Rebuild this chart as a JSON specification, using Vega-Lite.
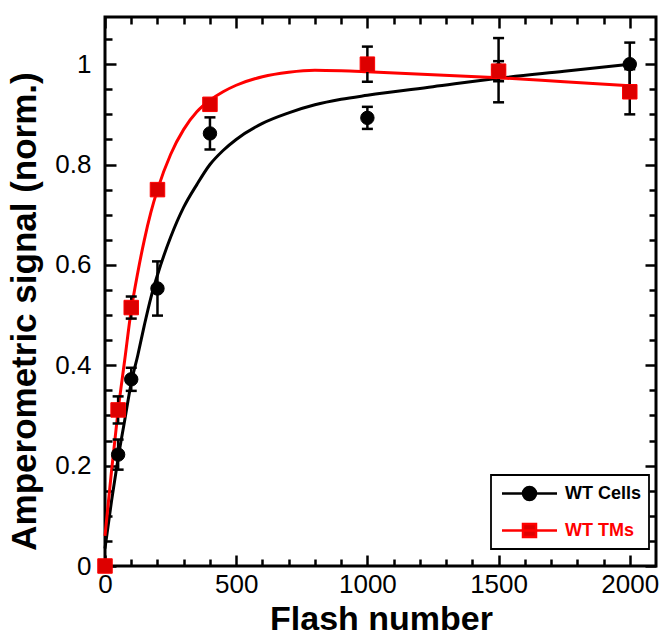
{
  "$schema": "https://vega.github.io/schema/vega-lite/v6.json",
  "width": 551,
  "height": 549,
  "autosize": {"type": "none"},
  "padding": {"left": 105, "top": 17, "right": 7, "bottom": 70},
  "config": {
    "view": {"stroke": "black", "strokeWidth": 3},
    "axis": {"grid": false, "domain": false, "labelFont": "Liberation Sans", "titleFont": "Liberation Sans", "tickColor": "black", "tickWidth": 2.5, "labelColor": "black", "titleColor": "black"},
    "legend": {"strokeWidth": 1.8}
  },
  "datasets": {
    "curves": [
      {"series": "WT Cells", "x": 0, "y": 0.035},
      {"series": "WT Cells", "x": 25, "y": 0.13},
      {"series": "WT Cells", "x": 50, "y": 0.215},
      {"series": "WT Cells", "x": 75, "y": 0.29},
      {"series": "WT Cells", "x": 100, "y": 0.365},
      {"series": "WT Cells", "x": 125, "y": 0.42},
      {"series": "WT Cells", "x": 150, "y": 0.48},
      {"series": "WT Cells", "x": 175, "y": 0.535},
      {"series": "WT Cells", "x": 200, "y": 0.58},
      {"series": "WT Cells", "x": 250, "y": 0.655},
      {"series": "WT Cells", "x": 300, "y": 0.715},
      {"series": "WT Cells", "x": 350, "y": 0.76},
      {"series": "WT Cells", "x": 400, "y": 0.8},
      {"series": "WT Cells", "x": 450, "y": 0.828},
      {"series": "WT Cells", "x": 500, "y": 0.85},
      {"series": "WT Cells", "x": 600, "y": 0.882},
      {"series": "WT Cells", "x": 700, "y": 0.903},
      {"series": "WT Cells", "x": 800, "y": 0.919},
      {"series": "WT Cells", "x": 900, "y": 0.93},
      {"series": "WT Cells", "x": 1000, "y": 0.938},
      {"series": "WT Cells", "x": 1250, "y": 0.955},
      {"series": "WT Cells", "x": 1500, "y": 0.972},
      {"series": "WT Cells", "x": 1750, "y": 0.986},
      {"series": "WT Cells", "x": 2000, "y": 1.0},
      {"series": "WT TMs", "x": 0, "y": 0.06},
      {"series": "WT TMs", "x": 25, "y": 0.19},
      {"series": "WT TMs", "x": 50, "y": 0.31},
      {"series": "WT TMs", "x": 75, "y": 0.41},
      {"series": "WT TMs", "x": 100, "y": 0.51},
      {"series": "WT TMs", "x": 125, "y": 0.585},
      {"series": "WT TMs", "x": 150, "y": 0.65},
      {"series": "WT TMs", "x": 175, "y": 0.705},
      {"series": "WT TMs", "x": 200, "y": 0.75},
      {"series": "WT TMs", "x": 250, "y": 0.82},
      {"series": "WT TMs", "x": 300, "y": 0.87},
      {"series": "WT TMs", "x": 350, "y": 0.905},
      {"series": "WT TMs", "x": 400, "y": 0.928},
      {"series": "WT TMs", "x": 450, "y": 0.945},
      {"series": "WT TMs", "x": 500, "y": 0.958},
      {"series": "WT TMs", "x": 600, "y": 0.975},
      {"series": "WT TMs", "x": 700, "y": 0.984},
      {"series": "WT TMs", "x": 800, "y": 0.988},
      {"series": "WT TMs", "x": 900, "y": 0.987},
      {"series": "WT TMs", "x": 1000, "y": 0.985},
      {"series": "WT TMs", "x": 1250, "y": 0.979},
      {"series": "WT TMs", "x": 1500, "y": 0.973},
      {"series": "WT TMs", "x": 1750, "y": 0.965},
      {"series": "WT TMs", "x": 2000, "y": 0.957}
    ],
    "points": [
      {"series": "WT Cells", "x": 50, "y": 0.222, "err": 0.03},
      {"series": "WT Cells", "x": 100, "y": 0.372, "err": 0.023},
      {"series": "WT Cells", "x": 200, "y": 0.553, "err": 0.054},
      {"series": "WT Cells", "x": 400, "y": 0.862, "err": 0.032},
      {"series": "WT Cells", "x": 1000, "y": 0.893, "err": 0.022},
      {"series": "WT Cells", "x": 1500, "y": 0.988, "err": 0.064},
      {"series": "WT Cells", "x": 2000, "y": 1.0, "err": 0.043},
      {"series": "WT TMs", "x": 0, "y": 0.0, "err": 0},
      {"series": "WT TMs", "x": 50, "y": 0.311, "err": 0.027},
      {"series": "WT TMs", "x": 100, "y": 0.515, "err": 0.022},
      {"series": "WT TMs", "x": 200, "y": 0.75, "err": 0.01},
      {"series": "WT TMs", "x": 400, "y": 0.92, "err": 0.01},
      {"series": "WT TMs", "x": 1000, "y": 1.0, "err": 0.035},
      {"series": "WT TMs", "x": 1500, "y": 0.986, "err": 0.02},
      {"series": "WT TMs", "x": 2000, "y": 0.945, "err": 0.045}
    ]
  },
  "layer": [
    {
      "data": {"name": "curves"},
      "mark": {"type": "point", "opacity": 0},
      "encoding": {
        "x": {"field": "x", "type": "quantitative", "scale": {"domain": [0, 2100], "nice": false, "zero": false},
          "axis": {"orient": "bottom", "values": [0, 500, 1000, 1500, 2000], "ticks": false, "format": "d", "labelFontSize": 26, "labelPadding": 5, "labelFlush": false,
            "title": "Flash number", "titleFontSize": 34, "titleFontWeight": "bold", "titleX": 276, "titleY": 63, "titleBaseline": "alphabetic"}},
        "y": {"field": "y", "type": "quantitative", "scale": {"domain": [0, 1.094], "nice": false, "zero": false},
          "axis": {"orient": "left", "values": [0, 0.2, 0.4, 0.6, 0.8, 1], "ticks": false, "format": "~g", "labelFontSize": 26, "labelPadding": 14, "labelFlush": false,
            "title": "Amperometric signal (norm.)", "titleFontSize": 35, "titleFontWeight": "bold", "titleX": -70, "titleY": 294, "titleBaseline": "alphabetic"}}
      }
    },
    {
      "data": {"name": "curves"},
      "mark": {"type": "point", "opacity": 0},
      "encoding": {
        "x": {"field": "x", "type": "quantitative", "axis": {"orient": "bottom", "values": [0, 500, 1000, 1500, 2000], "labels": false, "tickSize": -11, "title": null}},
        "y": {"field": "y", "type": "quantitative", "axis": {"orient": "left", "values": [0, 0.2, 0.4, 0.6, 0.8, 1], "labels": false, "tickSize": -11, "title": null}}
      }
    },
    {
      "data": {"name": "curves"},
      "mark": {"type": "point", "opacity": 0},
      "encoding": {
        "x": {"field": "x", "type": "quantitative", "axis": {"orient": "bottom", "values": [100, 200, 300, 400, 600, 700, 800, 900, 1100, 1200, 1300, 1400, 1600, 1700, 1800, 1900], "labels": false, "tickSize": -7, "title": null}},
        "y": {"field": "y", "type": "quantitative", "axis": {"orient": "left", "values": [0.05, 0.1, 0.15, 0.25, 0.3, 0.35, 0.45, 0.5, 0.55, 0.65, 0.7, 0.75, 0.85, 0.9, 0.95, 1.05], "labels": false, "tickSize": -7, "title": null}}
      }
    },
    {
      "data": {"name": "curves"},
      "mark": {"type": "point", "opacity": 0},
      "encoding": {
        "x": {"field": "x", "type": "quantitative", "axis": {"orient": "top", "values": [0, 500, 1000, 1500, 2000], "labels": false, "tickSize": -11, "title": null}},
        "y": {"field": "y", "type": "quantitative", "axis": {"orient": "right", "values": [0, 0.2, 0.4, 0.6, 0.8, 1], "labels": false, "tickSize": -11, "title": null}}
      }
    },
    {
      "data": {"name": "curves"},
      "mark": {"type": "point", "opacity": 0},
      "encoding": {
        "x": {"field": "x", "type": "quantitative", "axis": {"orient": "top", "values": [100, 200, 300, 400, 600, 700, 800, 900, 1100, 1200, 1300, 1400, 1600, 1700, 1800, 1900], "labels": false, "tickSize": -7, "title": null}},
        "y": {"field": "y", "type": "quantitative", "axis": {"orient": "right", "values": [0.05, 0.1, 0.15, 0.25, 0.3, 0.35, 0.45, 0.5, 0.55, 0.65, 0.7, 0.75, 0.85, 0.9, 0.95, 1.05], "labels": false, "tickSize": -7, "title": null}}
      }
    },
    {
      "data": {"name": "curves"},
      "mark": {"type": "line", "strokeWidth": 3, "interpolate": "monotone"},
      "encoding": {
        "x": {"field": "x", "type": "quantitative", "axis": null},
        "y": {"field": "y", "type": "quantitative", "axis": null},
        "detail": {"field": "series"},
        "color": {"condition": {"test": "datum.series === 'WT TMs'", "value": "#ff0000"}, "value": "black"}
      }
    },
    {
      "data": {"name": "points"},
      "mark": {"type": "errorbar", "ticks": true, "thickness": 2.5, "size": 11, "color": "black", "opacity": 1},
      "encoding": {
        "x": {"field": "x", "type": "quantitative", "axis": null},
        "y": {"field": "y", "type": "quantitative", "axis": null},
        "yError": {"field": "err"}
      }
    },
    {
      "data": {"name": "points"},
      "mark": {"type": "point", "opacity": 1, "strokeWidth": 1},
      "encoding": {
        "x": {"field": "x", "type": "quantitative", "axis": null},
        "y": {"field": "y", "type": "quantitative", "axis": null},
        "size": {"condition": {"test": "datum.series === 'WT TMs'", "value": 210}, "value": 180},
        "shape": {"condition": {"test": "datum.series === 'WT TMs'", "value": "square"}, "value": "circle"},
        "fill": {"field": "series", "type": "nominal", "scale": {"domain": ["WT Cells", "WT TMs"], "range": ["black", "#dd0000"]},
          "legend": {
            "orient": "none", "legendX": 386, "legendY": 458, "title": null,
            "strokeColor": "black", "fillColor": "white", "padding": 7,
            "symbolSize": 400, "symbolStrokeWidth": 2.5, "symbolOffset": 20, "labelOffset": 24, "symbolOpacity": 1,
            "symbolType": {"expr": "datum.value === 'WT TMs' ? 'M-2.75,0H2.75M-0.65,-0.65H0.65V0.65H-0.65Z' : 'M-2.75,0H2.75M0.65,0A0.65,0.65,0,1,1,-0.65,0A0.65,0.65,0,1,1,0.65,0Z'"},
            "labelColor": {"expr": "datum.value === 'WT TMs' ? '#ff0000' : 'black'"},
            "labelFont": "Liberation Sans", "labelFontSize": 18, "labelFontWeight": "bold", "rowPadding": 14
          }},
        "stroke": {"field": "series", "type": "nominal", "scale": {"domain": ["WT Cells", "WT TMs"], "range": ["black", "#ff0000"]},
          "legend": {
            "orient": "none", "legendX": 386, "legendY": 458, "title": null,
            "strokeColor": "black", "fillColor": "white", "padding": 7,
            "symbolSize": 400, "symbolStrokeWidth": 2.5, "symbolOffset": 20, "labelOffset": 24, "symbolOpacity": 1,
            "symbolType": {"expr": "datum.value === 'WT TMs' ? 'M-2.75,0H2.75M-0.65,-0.65H0.65V0.65H-0.65Z' : 'M-2.75,0H2.75M0.65,0A0.65,0.65,0,1,1,-0.65,0A0.65,0.65,0,1,1,0.65,0Z'"},
            "labelColor": {"expr": "datum.value === 'WT TMs' ? '#ff0000' : 'black'"},
            "labelFont": "Liberation Sans", "labelFontSize": 18, "labelFontWeight": "bold", "rowPadding": 14
          }}
      }
    }
  ],
  "resolve": {"axis": {"x": "independent", "y": "independent"}}
}
